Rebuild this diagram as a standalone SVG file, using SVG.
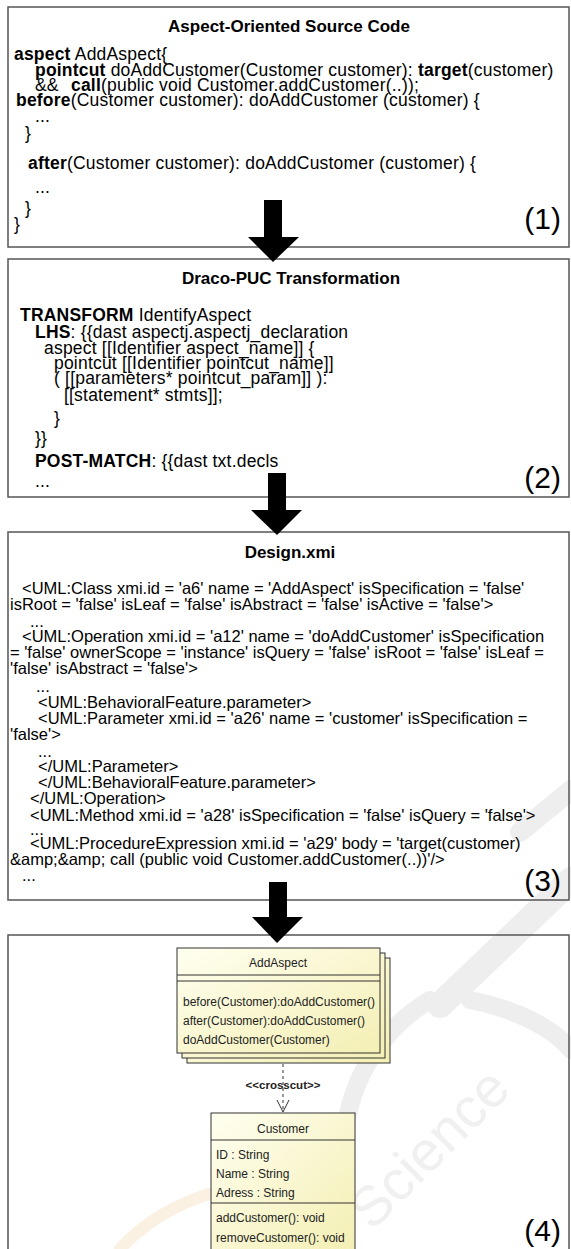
<svg xmlns="http://www.w3.org/2000/svg" width="571" height="1249" viewBox="0 0 571 1249">
<style>
  .frame{fill:none;stroke:#555;stroke-width:1.5}
  .title{font-family:"Liberation Sans",Arial,sans-serif;font-weight:bold;font-size:17px;text-anchor:middle;fill:#000}
  .code{font-family:"Liberation Sans",Arial,sans-serif;font-size:17.5px;letter-spacing:0.2px;fill:#000}
  .xmi{font-family:"Liberation Sans",Arial,sans-serif;font-size:16.5px;fill:#000}
  .b{font-weight:bold}
  .num{font-family:"Liberation Sans",Arial,sans-serif;font-size:30px;text-anchor:end;fill:#000}
  .bigarrow{fill:#000}
  .cls{fill:url(#note);stroke:#333;stroke-width:1}
  .sep{stroke:#333;stroke-width:1}
  .uml{font-family:"Liberation Sans",Arial,sans-serif;font-size:12px;fill:#222}
  .umlc{font-family:"Liberation Sans",Arial,sans-serif;font-size:12px;fill:#222;text-anchor:middle}
  .stereo{font-family:"Liberation Sans",Arial,sans-serif;font-size:11.5px;font-weight:bold;fill:#222;text-anchor:middle}
  .dep{fill:none;stroke:#333;stroke-width:1}
  .wm{fill:none;stroke:#eeeeee;stroke-linecap:round}
</style>
<defs>
  <linearGradient id="note" x1="0" y1="0" x2="1" y2="1">
    <stop offset="0" stop-color="#fffff0"/>
    <stop offset="1" stop-color="#f4efb4"/>
  </linearGradient>
</defs>

<rect x="0" y="0" width="571" height="1249" fill="#fff"/>

<!-- faint publisher mark in the background -->
<g id="watermark">
  <path class="wm" d="M 520 832 L 571 790" stroke-width="20"/>
  <path class="wm" d="M 440 1005 L 571 880" stroke-width="26"/>
  <path class="wm" d="M 345 1135 C 350 1080 380 1030 430 1000" stroke-width="18"/>
  <path class="wm" d="M 470 1000 C 520 1010 555 1030 571 1050" stroke-width="18"/>
  <path d="M 120 1249 C 160 1205 220 1185 280 1180" fill="none" stroke="#fbf1e2" stroke-width="12" stroke-linecap="round"/>
  <text x="0" y="0" transform="translate(372,1232) rotate(-45)" font-family="'Liberation Sans',Arial,sans-serif" font-size="56" fill="#f0f0f0">Science</text>
</g>

<!-- (1) AspectJ source -->
<g id="source-code">
  <rect class="frame" x="8" y="7" width="561" height="240"/>
  <text class="title" x="289" y="32">Aspect-Oriented Source Code</text>
  <text class="code" x="14" y="60"><tspan class="b">aspect</tspan> AddAspect{</text>
  <text class="code" x="35" y="76"><tspan class="b">pointcut</tspan> doAddCustomer(Customer customer): <tspan class="b">target</tspan>(customer)</text>
  <text class="code" x="35" y="91">&amp;&amp;</text>
  <text class="code" x="71" y="91"><tspan class="b">call</tspan>(public void Customer.addCustomer(..));</text>
  <text class="code" x="16" y="106"><tspan class="b">before</tspan>(Customer customer): doAddCustomer (customer) {</text>
  <text class="code" x="35" y="122">...</text>
  <text class="code" x="25" y="139">}</text>
  <text class="code" x="28" y="169"><tspan class="b">after</tspan>(Customer customer): doAddCustomer (customer) {</text>
  <text class="code" x="35" y="193">...</text>
  <text class="code" x="25" y="214">}</text>
  <text class="code" x="14" y="230">}</text>
  <text class="num" x="561" y="229">(1)</text>
</g>

<!-- (2) Draco-PUC transformation -->
<g id="transformation">
  <rect class="frame" x="8" y="259" width="561" height="238"/>
  <text class="title" x="291" y="284">Draco-PUC Transformation</text>
  <text class="code" x="20" y="321"><tspan class="b">TRANSFORM</tspan> IdentifyAspect</text>
  <text class="code" x="35" y="338"><tspan class="b">LHS</tspan>: {{dast aspectj.aspectj_declaration</text>
  <text class="code" x="44" y="354">aspect [[Identifier aspect_name]] {</text>
  <text class="code" x="54" y="369">pointcut [[Identifier pointcut_name]]</text>
  <text class="code" x="54" y="384">( [[parameters* pointcut_param]] ):</text>
  <text class="code" x="64" y="401">[[statement* stmts]];</text>
  <text class="code" x="54" y="424">}</text>
  <text class="code" x="35" y="444">}}</text>
  <text class="code" x="35" y="467"><tspan class="b">POST-MATCH</tspan>: {{dast txt.decls</text>
  <text class="code" x="35" y="487">...</text>
  <text class="num" x="561" y="488">(2)</text>
</g>

<!-- (3) XMI design -->
<g id="design-xmi">
  <rect class="frame" x="8" y="532" width="561" height="368"/>
  <text class="title" x="290" y="558">Design.xmi</text>
  <text class="xmi" x="22" y="594">&lt;UML:Class xmi.id = 'a6' name = 'AddAspect' isSpecification = 'false'</text>
  <text class="xmi" x="10" y="610">isRoot = 'false' isLeaf = 'false' isAbstract = 'false' isActive = 'false'&gt;</text>
  <text class="xmi" x="30" y="627">...</text>
  <text class="xmi" x="22" y="642">&lt;UML:Operation xmi.id = 'a12' name = 'doAddCustomer' isSpecification</text>
  <text class="xmi" x="10" y="658">= 'false' ownerScope = 'instance' isQuery = 'false' isRoot = 'false' isLeaf =</text>
  <text class="xmi" x="10" y="674">'false' isAbstract = 'false'&gt;</text>
  <text class="xmi" x="36" y="692">...</text>
  <text class="xmi" x="38" y="708">&lt;UML:BehavioralFeature.parameter&gt;</text>
  <text class="xmi" x="38" y="724">&lt;UML:Parameter xmi.id = 'a26' name = 'customer' isSpecification =</text>
  <text class="xmi" x="10" y="740">'false'&gt;</text>
  <text class="xmi" x="38" y="757">...</text>
  <text class="xmi" x="38" y="772">&lt;/UML:Parameter&gt;</text>
  <text class="xmi" x="38" y="788">&lt;/UML:BehavioralFeature.parameter&gt;</text>
  <text class="xmi" x="30" y="804">&lt;/UML:Operation&gt;</text>
  <text class="xmi" x="30" y="821">&lt;UML:Method xmi.id = 'a28' isSpecification = 'false' isQuery = 'false'&gt;</text>
  <text class="xmi" x="30" y="835">...</text>
  <text class="xmi" x="30" y="849">&lt;UML:ProcedureExpression xmi.id = 'a29' body = 'target(customer)</text>
  <text class="xmi" x="10" y="865">&amp;amp;&amp;amp; call (public void Customer.addCustomer(..))'/&gt;</text>
  <text class="xmi" x="22" y="881">...</text>
  <text class="num" x="561" y="891">(3)</text>
</g>

<!-- (4) UML class model -->
<g id="uml-model">
  <rect class="frame" x="8" y="935" width="561" height="316"/>
  <text class="num" x="561" y="1241">(4)</text>
</g>

<g id="AddAspect">
  <rect class="cls" x="187" y="958" width="203" height="105"/>
  <rect class="cls" x="182" y="953" width="203" height="105"/>
  <rect class="cls" x="177" y="948" width="203" height="105"/>
  <line class="sep" x1="177" y1="975" x2="380" y2="975"/>
  <line class="sep" x1="177" y1="981" x2="380" y2="981"/>
  <text class="umlc" x="278" y="967">AddAspect</text>
  <text class="uml" x="183" y="1006">before(Customer):doAddCustomer()</text>
  <text class="uml" x="183" y="1025">after(Customer):doAddCustomer()</text>
  <text class="uml" x="183" y="1044">doAddCustomer(Customer)</text>
</g>

<g id="Customer">
  <rect class="cls" x="211" y="1113" width="144" height="137"/>
  <line class="sep" x1="211" y1="1140" x2="355" y2="1140"/>
  <line class="sep" x1="211" y1="1203" x2="355" y2="1203"/>
  <text class="umlc" x="283" y="1133">Customer</text>
  <text class="uml" x="216" y="1159">ID : String</text>
  <text class="uml" x="216" y="1178">Name : String</text>
  <text class="uml" x="216" y="1197">Adress : String</text>
  <text class="uml" x="216" y="1222">addCustomer(): void</text>
  <text class="uml" x="216" y="1242">removeCustomer(): void</text>
</g>

<!-- connectors -->
<g id="connectors">
  <polygon class="bigarrow" points="264,200 282,200 282,237 299,237 273,262 248,237 264,237"/>
  <polygon class="bigarrow" points="268,473 286,473 286,510 302,510 277,535 251,510 268,510"/>
  <polygon class="bigarrow" points="269,882 287,882 287,917 303,917 277,943 252,917 269,917"/>
  <line class="dep" x1="283" y1="1064" x2="283" y2="1111" stroke-dasharray="3,3"/>
  <polyline class="dep" points="277,1100 283,1112 289,1100"/>
  <text class="stereo" x="283" y="1089">&lt;&lt;crosscut&gt;&gt;</text>
</g>
</svg>
